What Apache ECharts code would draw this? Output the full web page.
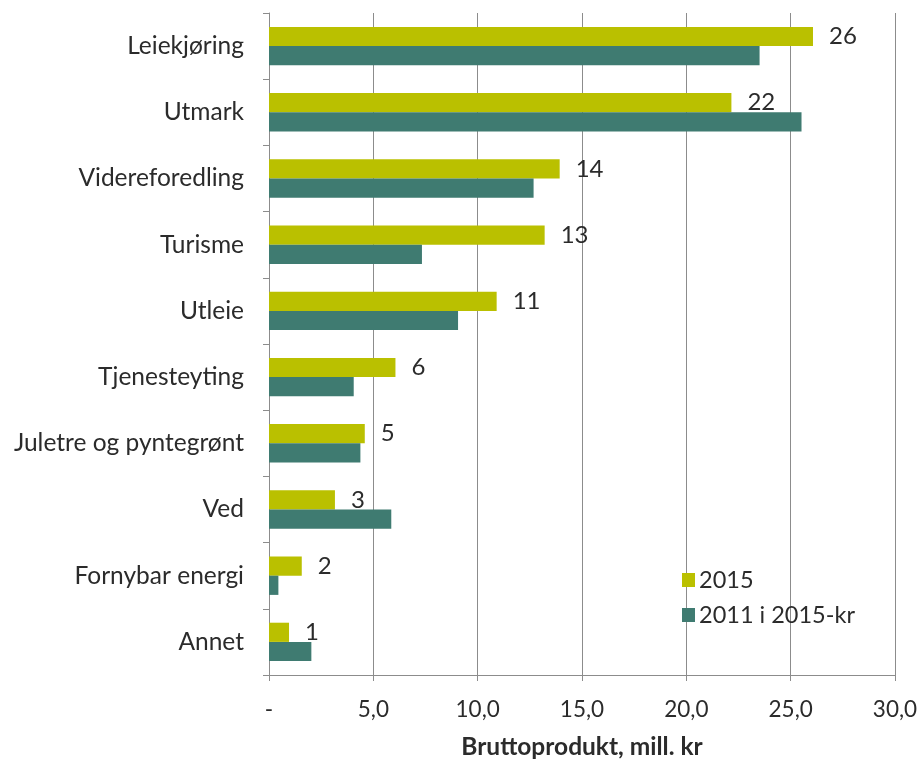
<!DOCTYPE html>
<html>
<head>
<meta charset="utf-8">
<script src="https://cdn.jsdelivr.net/npm/echarts@6/dist/echarts.min.js"></script>
<style>
html,body{margin:0;padding:0;background:#fff;}
#chart{width:924px;height:765px;}
</style>
</head>
<body>
<div id="chart"></div>
<script>
const categories = ["Leiekjøring","Utmark","Videreforedling","Turisme","Utleie","Tjenesteyting","Juletre og pyntegrønt","Ved","Fornybar energi","Annet"];
const values2015 = [26.07, 22.16, 13.93, 13.21, 10.91, 6.06, 4.59, 3.16, 1.57, 0.96];
const values2011 = [23.51, 25.52, 12.68, 7.33, 9.06, 4.06, 4.38, 5.86, 0.45, 2.03];
const seriesNames = ["2015", "2011 i 2015-kr"];
const xTicks = {min: 0, max: 30, interval: 5};
const axisTitle = "Bruttoprodukt, mill. kr";

const FONT = 'Lato, "Open Sans", sans-serif';
const TXT = '#2b2b2b';
const chart = echarts.init(document.getElementById('chart'), null, {renderer: 'canvas'});
chart.setOption({
  backgroundColor: '#ffffff',
  animation: false,
  textStyle: {fontFamily: FONT, color: TXT},
  grid: {left: 269, right: 29, top: 13, bottom: 89, containLabel: false},
  legend: {
    orient: 'vertical',
    left: 677, top: 563,
    itemWidth: 13, itemHeight: 14, itemGap: 11,
    icon: 'rect',
    textStyle: {fontFamily: FONT, fontSize: 23.5, color: TXT, padding: [0,0,0,-1]},
    data: seriesNames
  },
  xAxis: {
    type: 'value',
    min: xTicks.min, max: xTicks.max, interval: xTicks.interval,
    axisLine: {show: true, lineStyle: {color: '#8c8c8c', width: 1}},
    axisTick: {show: true, length: 6, lineStyle: {color: '#8c8c8c'}},
    splitLine: {show: true, lineStyle: {color: '#8c8c8c', width: 1}},
    axisLabel: {
      fontFamily: FONT, fontSize: 22.5, color: TXT, margin: 23,
      formatter: v => v === 0 ? '-' : v.toFixed(1).replace('.', ',')
    },
    name: axisTitle,
    nameLocation: 'middle',
    nameGap: 60,
    nameTextStyle: {fontFamily: FONT, fontSize: 24.5, fontWeight: 'bold', color: TXT}
  },
  yAxis: {
    type: 'category',
    inverse: true,
    data: categories,
    axisLine: {show: true, lineStyle: {color: '#8c8c8c', width: 1}},
    axisTick: {show: true, length: 6, lineStyle: {color: '#8c8c8c'}},
    axisLabel: {fontFamily: FONT, fontSize: 24.5, color: TXT, margin: 25}
  },
  series: [
    {
      name: seriesNames[0], type: 'bar', data: values2015,
      itemStyle: {color: '#BAC000'},
      barGap: '0%', barCategoryGap: '42%',
      label: {
        show: true, position: 'right', distance: 16,
        fontFamily: FONT, fontSize: 24, color: TXT,
        formatter: p => String(Math.round(p.value))
      }
    },
    {
      name: seriesNames[1], type: 'bar', data: values2011,
      itemStyle: {color: '#3F7B71'},
      barGap: '0%', barCategoryGap: '42%'
    }
  ]
});
</script>
</body>
</html>
